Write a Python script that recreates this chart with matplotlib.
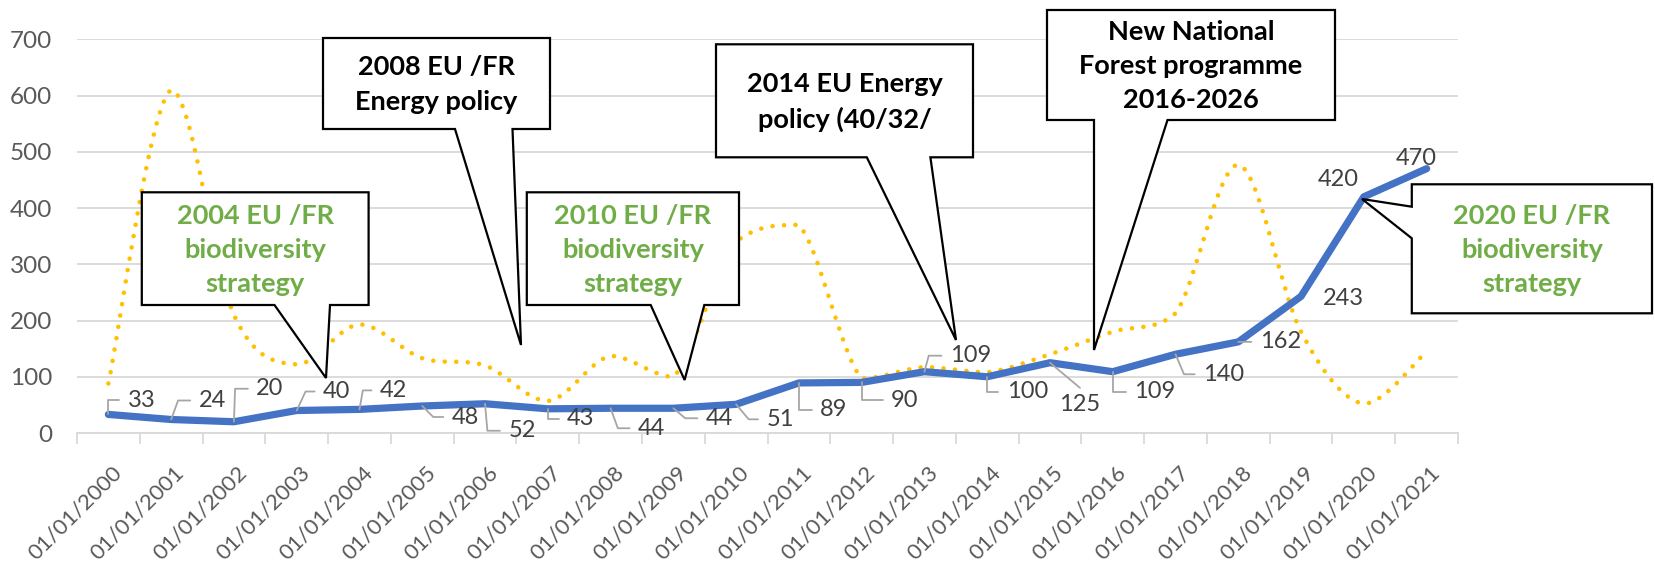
import matplotlib
matplotlib.use('Agg')
import matplotlib.pyplot as plt
import matplotlib.transforms as mtransforms
from matplotlib.path import Path
from matplotlib.patches import PathPatch, Polygon
import numpy as np

plt.rcParams['font.family'] = ['Lato', 'DejaVu Sans']

# ---- data ----
years = list(range(2000, 2022))
tick_labels = [f"01/01/{y}" for y in years]
blue_values = [33, 24, 20, 40, 42, 48, 52, 43, 44, 44, 51, 89, 90, 109, 100,
               125, 109, 140, 162, 243, 420, 470]
orange_values = [88, 610, 210, 122, 193, 133, 120, 57, 137, 100, 340, 370, 97,
                 117, 108, 140, 180, 213, 477, 180, 52, 145]

# label offsets in pixels (dx, dy up) and leader angle at the point (None = no leader)
label_offsets = [(33, 14), (41, 19), (36, 33), (40, 19), (34, 19), (43, -11), (37, -27),
                 (33, -10), (41, -20), (46, -10), (44, -15), (35, -27), (43, -18),
                 (46, 16), (40, -15), (30, -42), (42, -20), (48, -20), (42, 0),
                 (42, -2), (-26, 17), (-10, 10)]
leader_angles = [90, 70, 88, 65, 80, -45, -85, -90, -70, -40, -50, -90, -90,
                 75, -90, -40, -90, -67, 0, None, None, None]

W, H = 1655, 561
fig = plt.figure(figsize=(W / 100, H / 100), dpi=100)
ax = fig.add_axes([77 / W, 1 - 433 / H, (1458 - 77) / W, (433 - 39.3) / H])

x = np.arange(len(years))

# smoothed orange line: bezier through the points, control points kept
# inside each segment's value range so peaks sit on the points (like Excel)
pts = np.column_stack([x, orange_values]).astype(float)
verts = [tuple(pts[0])]
codes = [Path.MOVETO]
for i in range(len(pts) - 1):
    p0 = pts[i - 1] if i > 0 else pts[i]
    p1, p2 = pts[i], pts[i + 1]
    p3 = pts[i + 2] if i + 2 < len(pts) else pts[i + 1]
    c1 = p1 + (p2 - p0) / 6
    c2 = p2 - (p3 - p1) / 6
    lo, hi = min(p1[1], p2[1]), max(p1[1], p2[1])
    c1[1] = np.clip(c1[1], lo, hi)
    c2[1] = np.clip(c2[1], lo, hi)
    verts += [tuple(c1), tuple(c2), tuple(p2)]
    codes += [Path.CURVE4] * 3
orange = PathPatch(Path(verts, codes), facecolor='none', edgecolor='#FFC000',
                   lw=3.3, linestyle=(0, (0.01, 2.5)), capstyle='round', zorder=3)
ax.add_patch(orange)

ax.plot(x, blue_values, color='#4472C4', lw=5.2, solid_capstyle='round',
        solid_joinstyle='round', zorder=4)

# data labels
for i, v in enumerate(blue_values):
    dx, dy = label_offsets[i]
    ang = leader_angles[i]
    kw = {}
    if ang is not None:
        if ang == 0:
            cs = "arc3,rad=0"
        else:
            cs = f"angle,angleA=0,angleB={ang},rad=0"
        kw['arrowprops'] = dict(arrowstyle='-', color='#A6A6A6', lw=1.3,
                                shrinkA=4, shrinkB=0, relpos=(0, 0.5),
                                connectionstyle=cs)
    ax.annotate(str(v), xy=(i, v), xytext=(dx, dy), textcoords='offset pixels',
                ha='center', va='center', fontsize=17, color='#404040',
                zorder=5, **kw)

ax.set_xlim(-0.5, len(years) - 0.5)
ax.set_ylim(0, 700)
ax.set_yticks(range(0, 701, 100))
ax.yaxis.grid(True, color='#D9D9D9', lw=1.3)
ax.set_axisbelow(True)
for s in ['left', 'right', 'top']:
    ax.spines[s].set_visible(False)
ax.spines['bottom'].set_color('#D9D9D9')
ax.spines['bottom'].set_linewidth(1.3)
ax.tick_params(axis='y', length=0, pad=18, labelsize=17.5, labelcolor='#595959')

ax.set_xticks(x)
ax.set_xticks(np.arange(-0.5, len(years)), minor=True)
ax.set_xticklabels(tick_labels, rotation=45, ha='right', rotation_mode='anchor')
ax.tick_params(axis='x', which='major', length=0, pad=21, labelsize=16,
               labelcolor='#595959')
ax.tick_params(axis='x', which='minor', length=8, width=1.3, color='#D9D9D9')
shift = mtransforms.ScaledTranslation(3 / 100, 0, fig.dpi_scale_trans)
for lab in ax.get_xticklabels():
    lab.set_transform(lab.get_transform() + shift)


# callouts, drawn in figure pixel coordinates
def fp(px, py):
    return (px / W, 1 - py / H)


callouts = [
    dict(box=(141.8, 192.3, 368.6, 305), side='bottom', base=(274.5, 330), tip=(326, 378),
         text="2004 EU /FR\nbiodiversity\nstrategy", color='#70AD47'),
    dict(box=(323, 38, 550, 129), side='bottom', base=(455, 512.5), tip=(521, 345),
         text="2008 EU /FR\nEnergy policy", color='black'),
    dict(box=(526.8, 192.3, 739, 305), side='bottom', base=(650.7, 704.3), tip=(684.6, 380),
         text="2010 EU /FR\nbiodiversity\nstrategy", color='#70AD47'),
    dict(box=(716, 44.3, 973, 157.3), side='bottom', base=(866.8, 930.4), tip=(956, 340),
         text="2014 EU Energy\npolicy (40/32/", color='black'),
    dict(box=(1047, 10, 1335, 120), side='bottom', base=(1094, 1167.5), tip=(1094, 350),
         text="New National\nForest programme\n2016-2026", color='black'),
    dict(box=(1411.8, 184.3, 1652, 313.3), side='left', base=(206.7, 238.3), tip=(1362, 199),
         text="2020 EU /FR\nbiodiversity\nstrategy", color='#70AD47'),
]

for c in callouts:
    L, T, R, B = c['box']
    if c['side'] == 'bottom':
        b1, b2 = c['base']
        pv = [(L, T), (R, T), (R, B), (b2, B), c['tip'], (b1, B), (L, B)]
    else:
        p1, p2 = c['base']
        pv = [(L, T), (R, T), (R, B), (L, B), (L, p2), c['tip'], (L, p1)]
    poly = Polygon([fp(*p) for p in pv], closed=True, transform=fig.transFigure,
                   facecolor='white', edgecolor='black', lw=1.6, zorder=10,
                   clip_on=False, joinstyle='miter')
    fig.add_artist(poly)
    cx, cy = (L + R) / 2, (T + B) / 2
    fig.text(*fp(cx, cy + 1), c['text'], ha='center', va='center', fontsize=19.5,
             fontweight='bold', color=c['color'], linespacing=1.5, zorder=11)

fig.savefig('out.png', dpi=100)
